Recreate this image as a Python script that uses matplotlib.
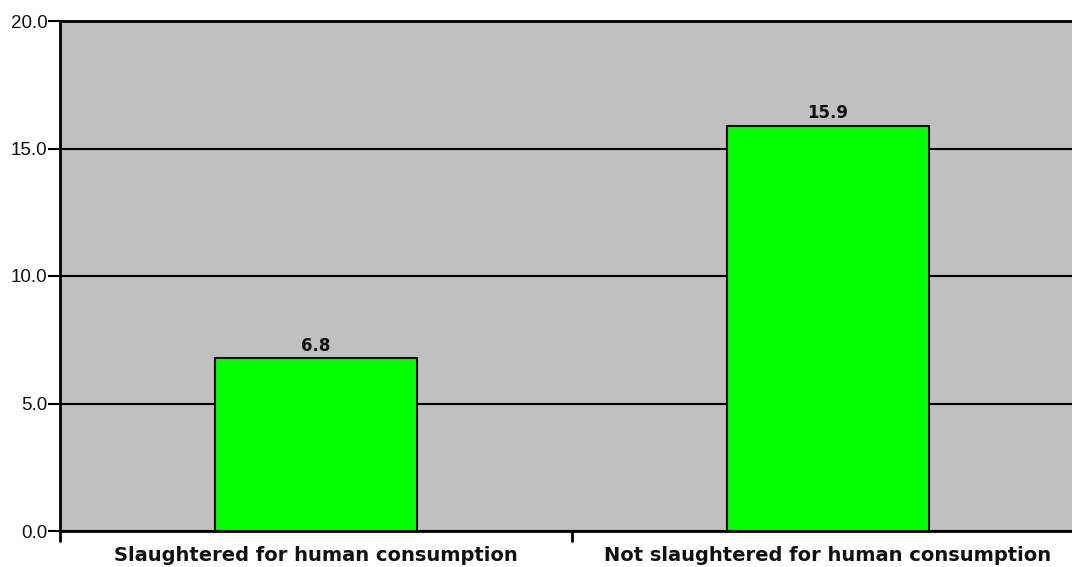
import matplotlib
matplotlib.use("Agg")
import matplotlib.pyplot as plt
from matplotlib.ticker import FixedLocator, FormatStrFormatter

categories = ["Slaughtered for human consumption", "Not slaughtered for human consumption"]
values = [6.8, 15.9]
yticks = [0, 5, 10, 15, 20]

plt.rcParams['font.family'] = ['Liberation Sans', 'DejaVu Sans']

W, H = 1072, 567
fig = plt.figure(figsize=(W / 100, H / 100), dpi=100)
left, right, top, bottom = 60, 1084, 21, 531
ax = fig.add_axes([left / W, (H - bottom) / H, (right - left) / W, (bottom - top) / H])
ax.set_facecolor('#C0C0C0')

x = list(range(len(categories)))
bars = ax.bar(x, values, width=0.396, color='#00FF00', edgecolor='black', linewidth=1.5, zorder=3)
for xi, v in zip(x, values):
    ax.text(xi, v + 0.12, f"{v:.1f}", ha='center', va='bottom', fontsize=12,
            fontweight='bold', family='DejaVu Sans', color='#111111', zorder=4)

ax.set_xlim(-0.5, len(categories) - 0.5)
ax.set_ylim(0, 20)
ax.set_yticks(yticks)
ax.yaxis.set_major_formatter(FormatStrFormatter('%.1f'))
ax.yaxis.grid(True, color='black', linewidth=1.5, zorder=1)
ax.set_axisbelow(True)

ax.set_xticks(x)
ax.set_xticklabels(categories, fontsize=14, fontweight='bold', family='DejaVu Sans', color='#111111')
ax.xaxis.set_minor_locator(FixedLocator([-0.5, 0.5, 1.5]))
ax.tick_params(axis='x', which='major', length=0, pad=11)
ax.tick_params(axis='x', which='minor', length=8, width=2, direction='out')
ax.tick_params(axis='y', which='major', length=9, width=1.5, direction='out', labelsize=13.5, pad=0,
               labelcolor='#111111')

for s in ['left', 'bottom', 'top']:
    ax.spines[s].set_linewidth(2)
ax.spines['right'].set_visible(False)

fig.savefig('out.png', dpi=100)
